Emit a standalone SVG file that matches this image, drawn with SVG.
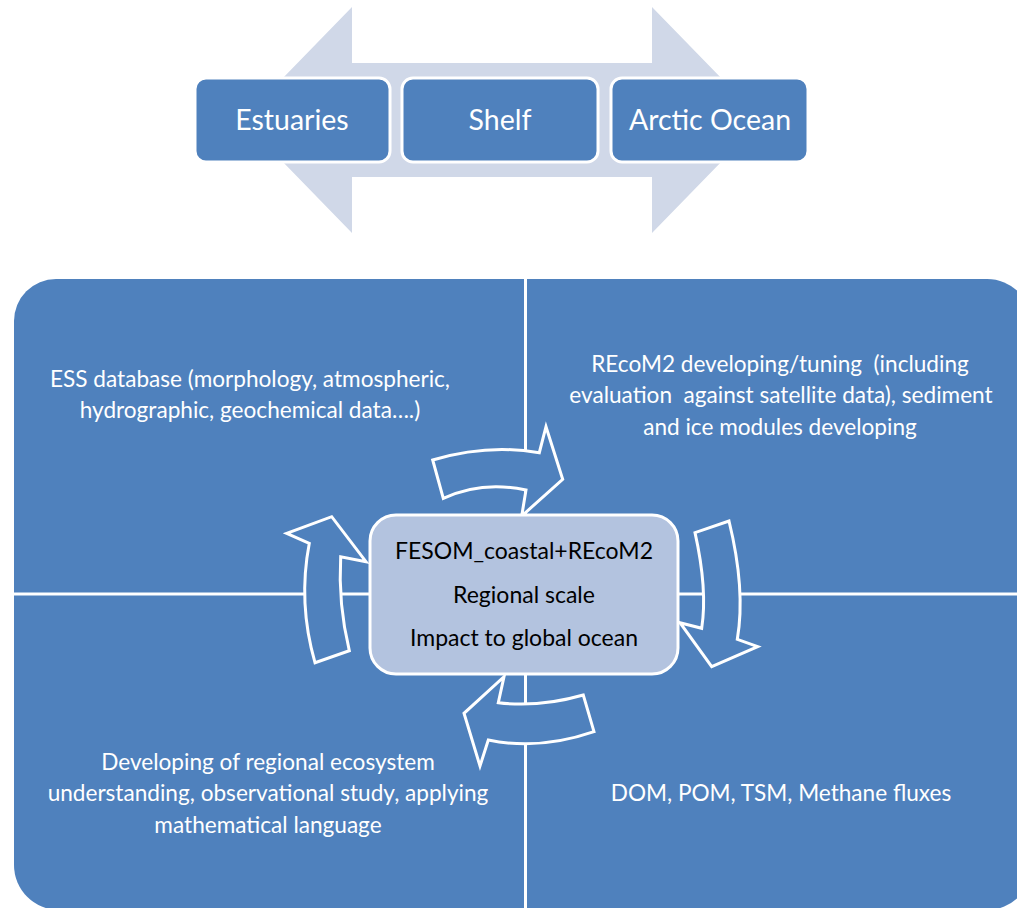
<svg xmlns="http://www.w3.org/2000/svg" width="1017" height="908" viewBox="0 0 1017 908">
<style>
.quad{fill:#4F81BD;}
.qt{font-family:Lato,"Open Sans","Liberation Sans",sans-serif;font-size:22.6px;fill:#FFFFFF;text-anchor:middle;}
.box{fill:#4F81BD;stroke:#FFFFFF;stroke-width:3;}
.bt{font-family:Lato,"Open Sans","Liberation Sans",sans-serif;font-size:28.5px;fill:#FFFFFF;text-anchor:middle;}
.center{fill:#B3C3DF;stroke:#FFFFFF;stroke-width:3;}
.ct{font-family:Lato,"Open Sans","Liberation Sans",sans-serif;font-size:23px;fill:#000000;text-anchor:middle;}
.carrow{fill:#4F81BD;stroke:#FFFFFF;stroke-width:3;stroke-linejoin:miter;}
</style>
<rect width="1017" height="908" fill="#FFFFFF"/>
<g id="scale-arrow">
<polygon points="242,120 352,7 352,63 652,63 652,7 762,120 652,233 652,177 352,177 352,233" fill="#D0D8E8"/>
</g>
<g id="estuaries">
<rect class="box" x="195" y="78" width="195" height="84" rx="11"/>
<text class="bt" x="292" y="130">Estuaries</text>
</g>
<g id="shelf">
<rect class="box" x="402" y="78" width="196" height="84" rx="11"/>
<text class="bt" x="500" y="130">Shelf</text>
</g>
<g id="arctic-ocean">
<rect class="box" x="611" y="78" width="197" height="84" rx="11"/>
<text class="bt" x="710" y="130">Arctic Ocean</text>
</g>
<g id="quadrant-tl">
<path class="quad" d="M14,321 A42,42 0 0 1 56,279 L524,279 L524,592.5 L14,592.5 Z"/>
<text class="qt" x="250" y="387">ESS database (morphology, atmospheric,</text>
<text class="qt" x="250" y="418">hydrographic, geochemical data….)</text>
</g>
<g id="quadrant-tr">
<path class="quad" d="M527,279 L987,279 A45,45 0 0 1 1032,324 L1032,592.5 L527,592.5 Z"/>
<text class="qt" x="780" y="372" xml:space="preserve">REcoM2 developing/tuning  (including</text>
<text class="qt" x="781" y="403" xml:space="preserve">evaluation  against satellite data), sediment</text>
<text class="qt" x="780" y="435">and ice modules developing</text>
</g>
<g id="quadrant-bl">
<path class="quad" d="M14,595.5 L524,595.5 L524,910 L59,910 A45,45 0 0 1 14,865 Z"/>
<text class="qt" x="268" y="770">Developing of regional ecosystem</text>
<text class="qt" x="268" y="801">understanding, observational study, applying</text>
<text class="qt" x="268" y="833">mathematical language</text>
</g>
<g id="quadrant-br">
<path class="quad" d="M527,595.5 L1032,595.5 L1032,865 A45,45 0 0 1 987,910 L527,910 Z"/>
<text class="qt" x="781" y="801">DOM, POM, TSM, Methane fluxes</text>
</g>
<g id="connectors">
<path class="carrow" d="M432.7,460 Q487.4,443.7 539.3,452.7 L546,426.7 L562.7,479.3 L521.7,516 L526,490 Q482,480.4 443.3,498.3 Z"/>
<path class="carrow" d="M729,521 Q745.8,589.8 737.3,639.3 L757.7,646.7 L711.7,666.7 L680,622.7 L701.7,628.3 Q707.7,589.5 695,532.7 Z"/>
<path class="carrow" d="M583.3,695 Q539.2,707.7 498.3,702.7 L504,676.7 L464,713.3 L480,766 L488.3,740 Q538.8,750.7 594,731.7 Z"/>
<path class="carrow" d="M315,662.7 Q297.8,603 309.3,543.3 L286.7,533.3 L331.7,516.7 L366,561.7 L340.7,556.7 Q338,603.7 349.3,650.7 Z"/>
</g>
<g id="center-node">
<rect class="center" x="370" y="515" width="308" height="159" rx="26"/>
<text class="ct" x="524" y="559">FESOM_coastal+REcoM2</text>
<text class="ct" x="524" y="603">Regional scale</text>
<text class="ct" x="524" y="646">Impact to global ocean</text>
</g>
</svg>
